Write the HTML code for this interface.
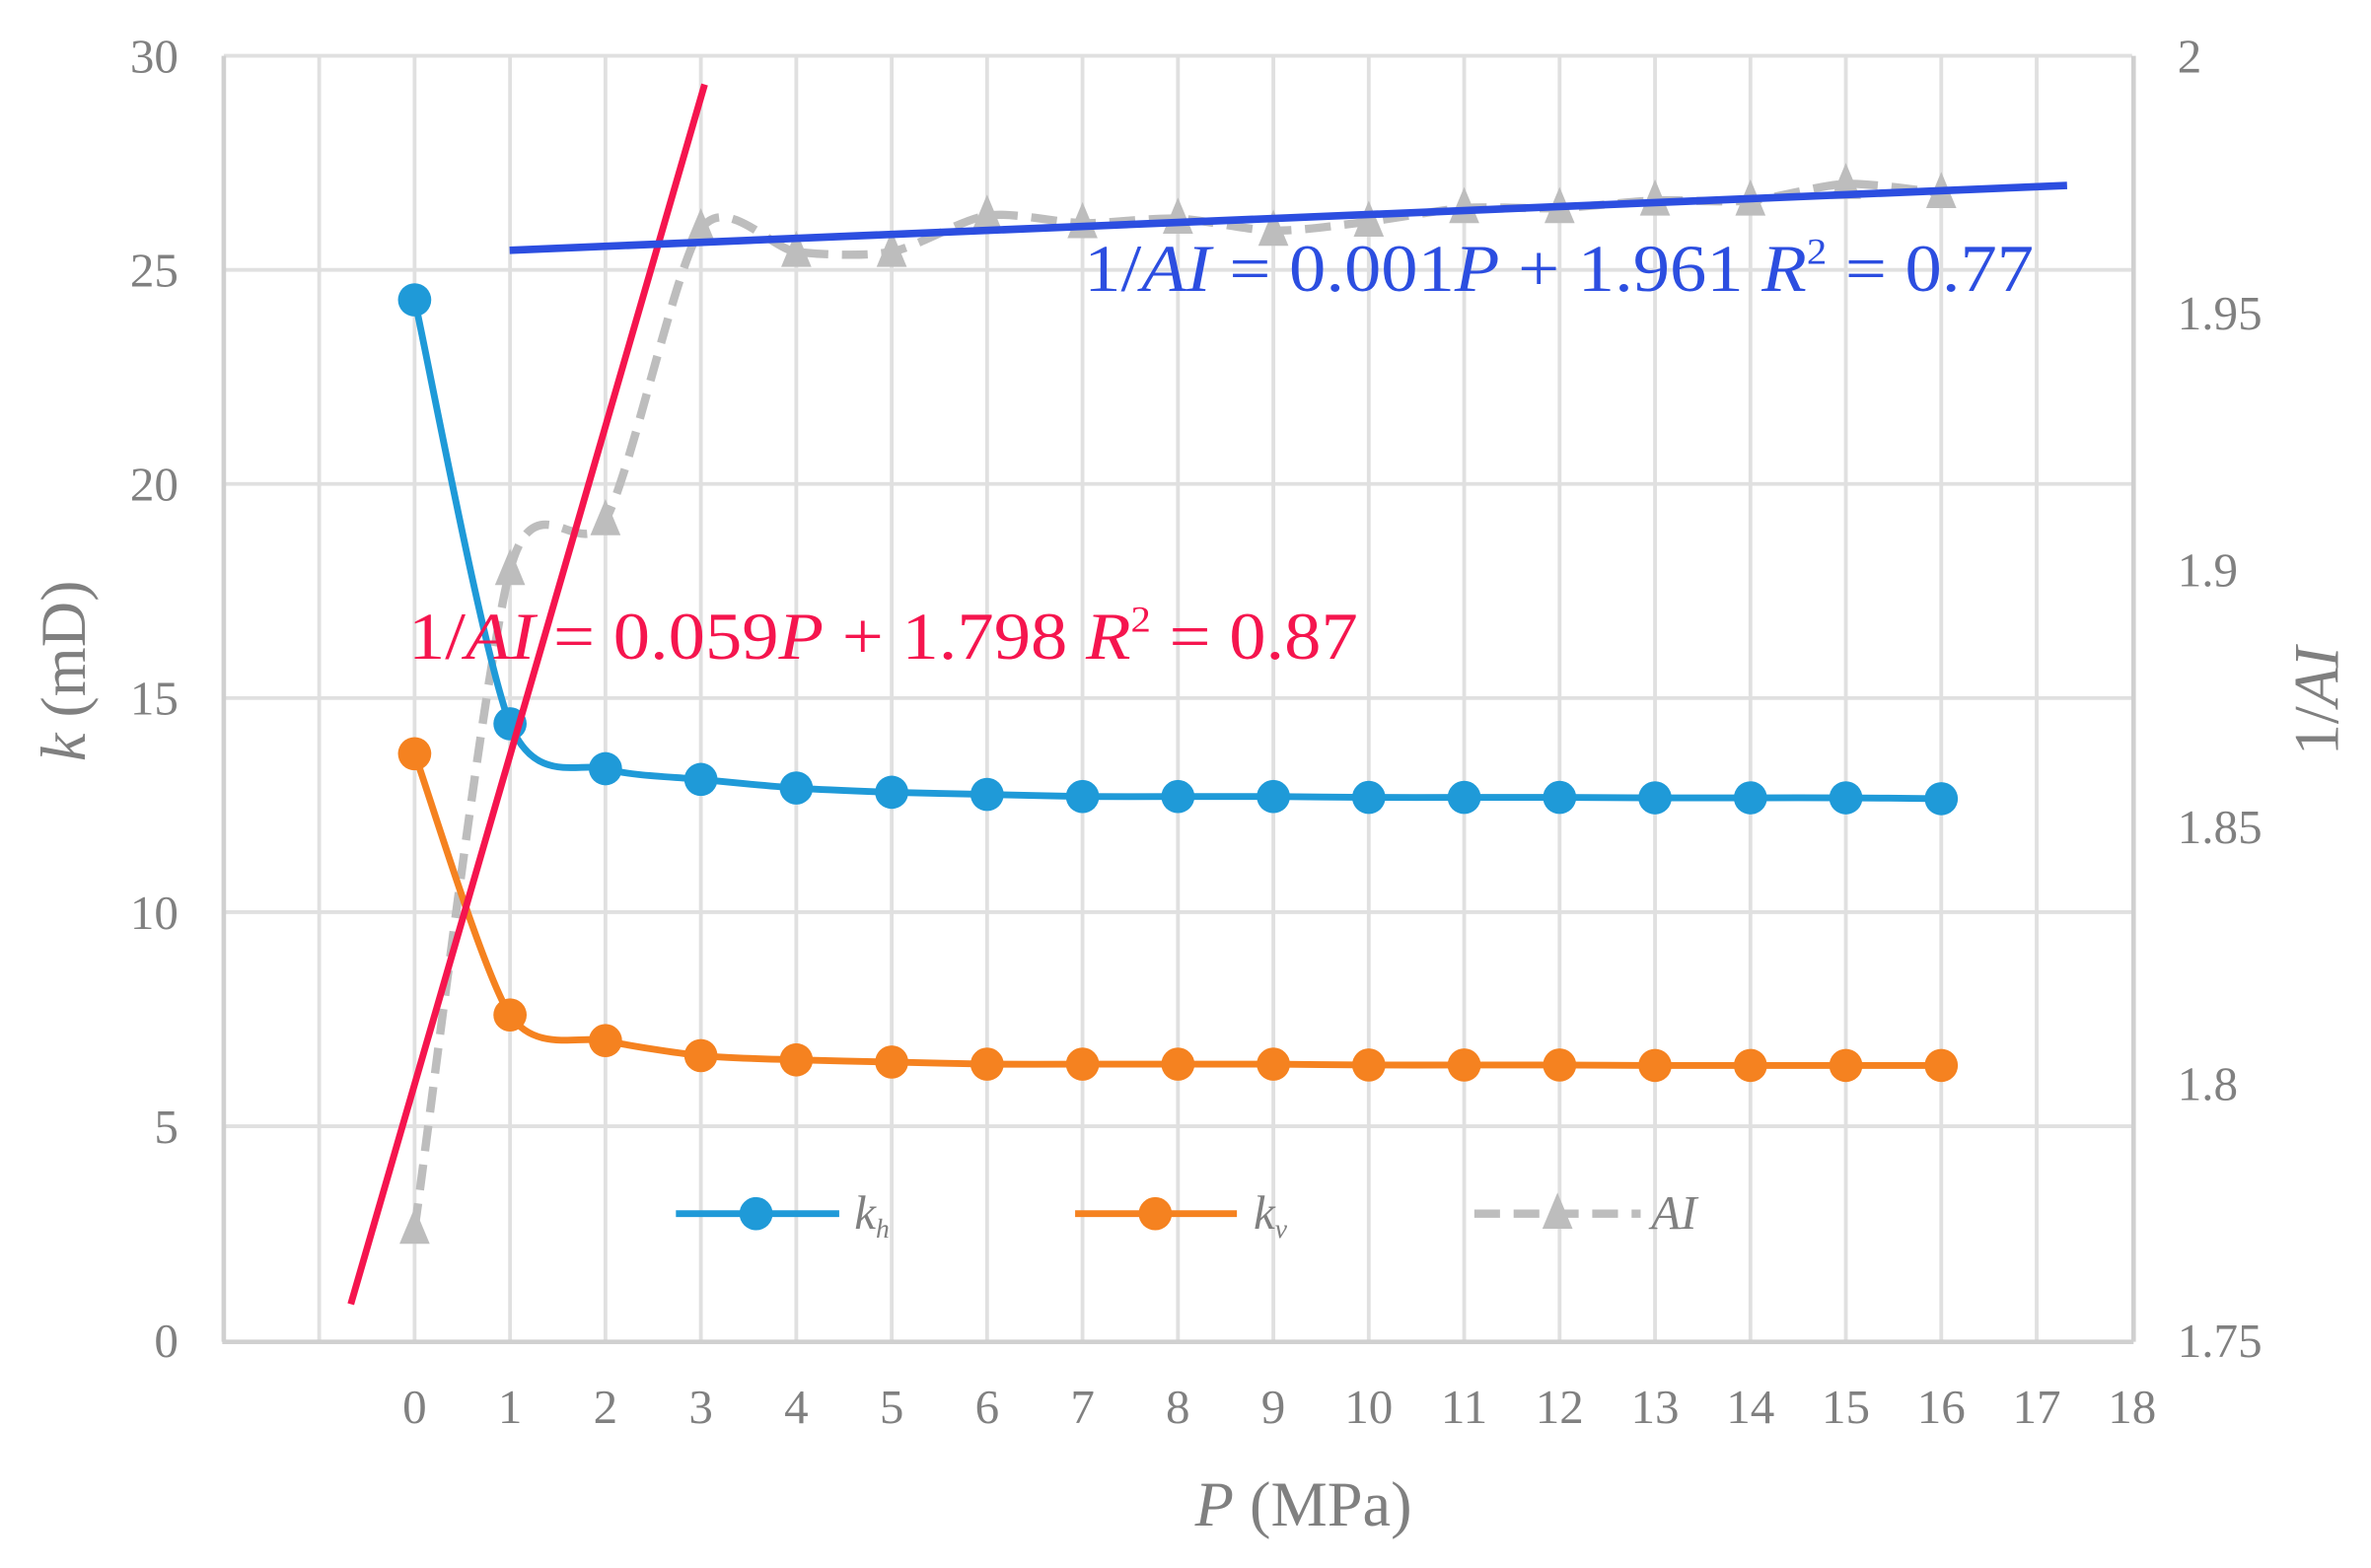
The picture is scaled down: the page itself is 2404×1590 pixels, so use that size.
<!DOCTYPE html>
<html><head><meta charset="utf-8"><style>html,body{margin:0;padding:0;background:#fff}svg{display:block}svg text{font-family:"Liberation Serif","Times New Roman",serif}</style></head>
<body>
<svg id="s" width="2404" height="1590" viewBox="0 0 1568 1040" preserveAspectRatio="none" xmlns="http://www.w3.org/2000/svg">
<g id="grid" stroke="#e0e0e0" stroke-width="2.5"></g>
<g stroke="#d0d0d0" stroke-width="3" fill="none">
<line x1="148" y1="37" x2="148" y2="890"/><line x1="147" y1="890" x2="1411" y2="890"/><line x1="1411" y1="37" x2="1411" y2="890"/>
</g>
<g id="lab" fill="#808080" font-size="32"></g>
<g id="series"></g>
<line x1="232" y1="865" x2="466" y2="56" stroke="#f5154e" stroke-width="4.5"/>
<line x1="337" y1="166" x2="1367" y2="123" stroke="#2c4ee0" stroke-width="5"/>
<text x="717" y="193" font-size="44" fill="#2c4ee0" textLength="628" lengthAdjust="spacingAndGlyphs">1/<tspan font-style="italic">AI</tspan> = 0.001<tspan font-style="italic">P</tspan> + 1.961  <tspan font-style="italic">R</tspan><tspan font-size="24" dy="-18">2</tspan><tspan dy="18"> = 0.77</tspan></text>
<text x="270" y="437" font-size="44" fill="#f5154e" textLength="628" lengthAdjust="spacingAndGlyphs">1/<tspan font-style="italic">AI</tspan> = 0.059<tspan font-style="italic">P</tspan> + 1.798  <tspan font-style="italic">R</tspan><tspan font-size="24" dy="-18">2</tspan><tspan dy="18"> = 0.87</tspan></text>
<text x="862" y="1012" font-size="42" fill="#808080" text-anchor="middle"><tspan font-style="italic">P</tspan> (MPa)</text>
<text transform="translate(56,445) rotate(-90)" font-size="42" fill="#808080" text-anchor="middle"><tspan font-style="italic">k</tspan> (mD)</text>
<text transform="translate(1546,465) rotate(-90)" font-size="42" fill="#808080" text-anchor="middle">1/<tspan font-style="italic">AI</tspan></text>
<g id="leg"></g>
</svg>
<script>
var NS="http://www.w3.org/2000/svg";
function el(p,t,a,txt){var e=document.createElementNS(NS,t);for(var k in a)e.setAttribute(k,a[k]);if(txt!=null)e.textContent=txt;document.getElementById(p).appendChild(e);return e;}
function X(i){return 148+(i+2)*63.1;}
function Y(k){return 889-k*28.4;}
for(var i=-1;i<=17;i++)el('grid','line',{x1:X(i),y1:37,x2:X(i),y2:889});
for(var k=5;k<=30;k+=5)el('grid','line',{x1:148,y1:Y(k),x2:1410,y2:Y(k)});
for(var k=0;k<=30;k+=5)el('lab','text',{x:118,y:Y(k)+11,'text-anchor':'end'},k);
var r=['1.75','1.8','1.85','1.9','1.95','2'];
for(var j=0;j<6;j++)el('lab','text',{x:1440,y:Y(j*6)+11},r[j]);
for(var i=0;i<=18;i++)el('lab','text',{x:X(i),y:944,'text-anchor':'middle'},i);
function cr(pts){var d='M'+pts[0][0]+','+pts[0][1];for(var i=0;i<pts.length-1;i++){var p0=pts[i-1]||pts[i],p1=pts[i],p2=pts[i+1],p3=pts[i+2]||p2;var t=0.4/3;d+=' C'+(p1[0]+(p2[0]-p0[0])*t)+','+(p1[1]+(p2[1]-p0[1])*t)+' '+(p2[0]-(p3[0]-p1[0])*t)+','+(p2[1]-(p3[1]-p1[1])*t)+' '+p2[0]+','+p2[1];}return d;}
var kh=[24.3,14.4,13.35,13.1,12.9,12.8,12.75,12.7,12.7,12.7,12.68,12.68,12.68,12.67,12.67,12.67,12.65];
var kv=[13.7,7.6,7.0,6.65,6.55,6.5,6.45,6.45,6.45,6.45,6.43,6.43,6.43,6.42,6.42,6.42,6.42];
var ai=[815,378,345,152,167,167,143,148,145,153,147,138,138,133,133,122,128];
var pa=ai.map(function(y,i){return [X(i),y]});
el('series','path',{d:cr(pa),fill:'none',stroke:'#bdbdbd','stroke-width':5.5,'stroke-dasharray':'17,9'});
pa.forEach(function(p){el('series','path',{d:'M'+p[0]+','+(p[1]-14)+' L'+(p[0]+10)+','+(p[1]+10)+' L'+(p[0]-10)+','+(p[1]+10)+'Z',fill:'#bdbdbd'});});
[[kh,'#1f9ad8'],[kv,'#f58220']].forEach(function(s){var p=s[0].map(function(v,i){return [X(i),Y(v)]});el('series','path',{d:cr(p),fill:'none',stroke:s[1],'stroke-width':4.5});p.forEach(function(q){el('series','circle',{cx:q[0],cy:q[1],r:11,fill:s[1]});});});
el('leg','line',{x1:447,y1:805,x2:555,y2:805,stroke:'#1f9ad8','stroke-width':4.5});el('leg','circle',{cx:500,cy:805,r:11,fill:'#1f9ad8'});
el('leg','line',{x1:711,y1:805,x2:818,y2:805,stroke:'#f58220','stroke-width':4.5});el('leg','circle',{cx:764,cy:805,r:11,fill:'#f58220'});
el('leg','line',{x1:975,y1:805,x2:1085,y2:805,stroke:'#bdbdbd','stroke-width':5.5,'stroke-dasharray':'17,9'});el('leg','path',{d:'M1030,791 L1040,815 L1020,815Z',fill:'#bdbdbd'});
var t=el('leg','text',{x:565,y:815,'font-size':32,fill:'#808080','font-style':'italic'},'k');var s=document.createElementNS(NS,'tspan');s.setAttribute('font-size','18');s.setAttribute('dy','6');s.textContent='h';t.appendChild(s);
t=el('leg','text',{x:829,y:815,'font-size':32,fill:'#808080','font-style':'italic'},'k');s=document.createElementNS(NS,'tspan');s.setAttribute('font-size','18');s.setAttribute('dy','6');s.textContent='v';t.appendChild(s);
el('leg','text',{x:1092,y:815,'font-size':32,fill:'#808080','font-style':'italic'},'AI');
</script>
</body></html>
